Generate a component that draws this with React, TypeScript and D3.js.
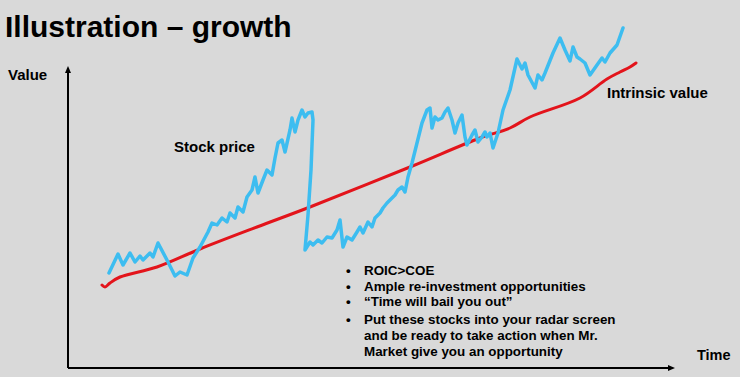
import React from "react";
import * as d3 from "d3";

// Units: time (arbitrary), value (arbitrary)
const stockTime = [41,50,55,62,67,72,75,82,85,90,100,107,112,119,125,132,140,144,149,154,159,162,167,170,175,179,184,187,190,195,199,204,207,210,214,217,222,224,227,230,234,237,240,244,245,243,240,237,242,245,250,254,259,264,269,272,275,279,284,289,292,295,300,304,307,312,315,319,322,327,330,334,337,340,344,349,354,359,362,364,367,370,374,377,380,384,387,390,394,397,399,404,407,410,414,417,419,422,425,430,435,442,449,454,457,460,467,470,474,477,485,492,497,502,505,509,512,517,522,529,534,537,542,549,555,565];
const stockValue = [95,114,103,115,106,112,108,115,111,125,106,92,96,93,110,121,136,145,143,150,146,155,150,161,156,171,178,191,175,188,198,193,210,225,228,216,238,250,236,248,258,251,255,256,248,198,153,118,126,123,128,125,131,130,138,148,121,131,128,136,141,135,146,141,150,155,160,165,168,173,178,181,176,191,205,225,245,258,260,240,251,248,250,256,260,248,235,245,253,231,223,233,238,226,231,236,231,235,220,235,258,278,309,299,305,293,280,293,288,295,315,330,318,307,321,311,309,305,293,303,310,306,315,323,340];
const ivTime = [34,37,42,52,89,132,189,242,342,412,442,462,512,539,552,562,568];
const ivValue = [83,81,85,91,101,119,141,161,201,230,240,251,270,289,296,301,305];

const title = "Illustration \u2013 growth";
const bullets = [
  ["ROIC>COE"],
  ["Ample re-investment opportunities"],
  ["\u201cTime will bail you out\u201d"],
  ["Put these stocks into your radar screen", "and be ready to take action when Mr.", "Market give you an opportunity"],
];

const W = 740, H = 377;
const FONT = "'Liberation Sans', Arial, sans-serif";

export default function App() {
  const x = d3.scaleLinear().domain([0, 607]).range([68, 675]);
  const y = d3.scaleLinear().domain([0, 302]).range([368, 66]);

  const stockLine = d3.line<number>()
    .x((_, i) => x(stockTime[i]))
    .y((d) => y(d))
    .curve(d3.curveLinear);
  const ivLine = d3.line<number>()
    .x((_, i) => x(ivTime[i]))
    .y((d) => y(d))
    .curve(d3.curveCatmullRom);

  const x0 = x(0), y0 = y(0);
  const yTop = y(302), xEnd = x(607);

  const lines: { text: string; bullet: boolean; y: number }[] = [];
  let by = 275;
  bullets.forEach((b, bi) => {
    if (bi === 3) by += 2;
    b.forEach((t, ti) => {
      lines.push({ text: t, bullet: ti === 0, y: by });
      by += bi === 3 ? 16 : 15.5;
    });
  });

  return (
    <svg width={W} height={H} style={{ position: "absolute", left: 0, top: 0 }} fontFamily={FONT}>
      <rect width={W} height={H} fill="#d9d9d9" />
      <text x={5} y={37} fontSize={30} fontWeight="bold" fill="#000">{title}</text>

      <line x1={x0} y1={y0} x2={x0} y2={yTop + 6} stroke="#000" strokeWidth={2} />
      <path d={`M${x0 - 3},${yTop + 7} L${x0},${yTop} L${x0 + 3},${yTop + 7} Z`} fill="#000" />
      <line x1={x0} y1={y0} x2={xEnd - 6} y2={y0} stroke="#000" strokeWidth={2} />
      <path d={`M${xEnd - 7},${y0 - 3} L${xEnd},${y0} L${xEnd - 7},${y0 + 3} Z`} fill="#000" />

      <text x={8} y={80} fontSize={15} fontWeight="bold">Value</text>
      <text x={697} y={360} fontSize={14.5} fontWeight="bold">Time</text>
      <text x={174} y={152} fontSize={15} fontWeight="bold">Stock price</text>
      <text x={607} y={98} fontSize={15} fontWeight="bold">Intrinsic value</text>

      <path d={ivLine(ivValue) || ""} fill="none" stroke="#e3141b" strokeWidth={3} strokeLinecap="round" strokeLinejoin="round" />
      <path d={stockLine(stockValue) || ""} fill="none" stroke="#3dbdf0" strokeWidth={3.5} strokeLinecap="round" strokeLinejoin="round" />

      {lines.map((l, i) => (
        <g key={i}>
          {l.bullet && <text x={346} y={l.y} fontSize={13.4} fontWeight="bold">{"\u2022"}</text>}
          <text x={364} y={l.y} fontSize={13.4} fontWeight="bold">{l.text}</text>
        </g>
      ))}
    </svg>
  );
}
